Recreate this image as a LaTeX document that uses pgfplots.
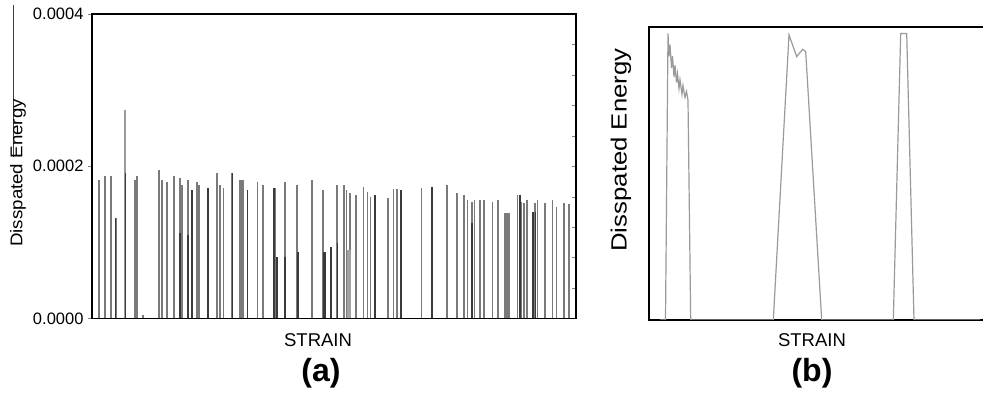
\documentclass[border=0pt]{standalone}
\usepackage{pgfplots}
\pgfplotsset{compat=1.18}
\usepackage{fontspec}
\setmainfont{Liberation Sans}
\definecolor{spk}{HTML}{7A7A7A}
\definecolor{spkdark}{HTML}{3A3A3A}
\definecolor{lineb}{HTML}{9A9A9A}
\begin{document}
\begin{tikzpicture}[x=1pt,y=1pt]
\path[use as bounding box] (0,0) rectangle (983,393);
\draw[black!75, line width=0.8pt] (13,388) -- (13,236);
% ---------------- panel (a)
\begin{axis}[
  at={(92pt,74.5pt)}, anchor=south west, scale only axis,
  width=484pt, height=304.5pt,
  xmin=92, xmax=576, ymin=0, ymax=4,
  xtick=\empty, ytick={0,2,4}, yticklabels={0.0000,0.0002,0.0004},
  ytick pos=left, tick align=outside, major tick length=4pt,
  axis line style={line width=1.8pt},
  yticklabel style={font=\fontsize{16.5}{18}\selectfont, xshift=-1pt},
  xlabel={STRAIN},
  xlabel style={at={(axis description cs:0.467,-0.072)}, anchor=center, font=\fontsize{18.5}{20}\selectfont},
  ylabel={\scalebox{1.1}[1]{Disspated Energy}},
  ylabel style={at={(axis description cs:-0.153,0.478)}, anchor=center, font=\fontsize{17}{19}\selectfont},
]
\addplot[ycomb, no markers, color=spk, line width=1.9pt] coordinates {
(99.3,1.82) (105,1.87) (111,1.87) (115.7,1.32) (135,1.82) (137.3,1.87)
(159.3,1.95) (162.3,1.82) (166.7,1.79) (174,1.87) (180,1.84) (182.3,1.75)
(187.7,1.82) (191.7,1.69) (197.3,1.79) (199,1.75) (207.7,1.71) (217,1.91)
(220,1.75) (223.5,1.71) (232,1.91) (240,1.82) (241.4,1.82) (242.7,1.82) (247.5,1.69)
(257.5,1.79) (263.3,1.75) (275,1.71) (285,1.79) (296.7,1.75) (311.7,1.82)
(323,1.69) (337.3,1.75) (344,1.75) (346.5,1.69) (350,1.65) (356,1.62)
(363.5,1.73) (367.5,1.66) (370.5,1.60) (375,1.62) (388,1.58) (393.5,1.70)
(397,1.70) (401,1.69) (421.5,1.71) (432,1.73) (447.3,1.75) (456.7,1.65)
(464,1.62) (467.5,1.56) (472,1.53) (474.5,1.56) (480,1.56) (484,1.56)
(492.5,1.53) (498,1.56) (505,1.39) (507,1.39) (509,1.39) (517.5,1.62)
(521,1.53) (524,1.52) (527,1.56) (532.5,1.40) (535,1.52) (537.5,1.56)
(545,1.52) (552.5,1.56) (556.5,1.47) (564.3,1.52) (569,1.50) (143.3,0.05)
};
\addplot[ycomb, no markers, color=spk!75, line width=1.3pt] coordinates {
(125,2.74)
};
\addplot[ycomb, no markers, color=spkdark, line width=1.6pt] coordinates {
(125.5,1.91) (115.7,1.32) (180,1.12) (188,1.10) (191.7,1.69) (207.7,1.71)
(232.3,1.91) (247.3,1.69) (274,1.71) (277,0.81) (285,0.81) (298,0.87)
(323.3,0.87) (325,0.87) (331,0.94) (337.3,0.99) (375,1.62) (401,1.69)
(432,1.73) (472,1.25) (520,1.62) (533,1.40) (535.5,1.40)
};
\addplot[ycomb, no markers, color=spk!70, line width=1.5pt] coordinates {
(350,0.90) (348,0.90)
};
\end{axis}
% right-hand minor ticks of (a)
\begin{axis}[
  at={(92pt,74.5pt)}, anchor=south west, scale only axis,
  width=484pt, height=304.5pt,
  xmin=92, xmax=576, ymin=0, ymax=4,
  axis x line=none, axis y line*=right,
  ytick={0.4,0.8,1.2,1.6,2.0,2.4,2.8,3.2,3.6}, yticklabels={},
  tick align=inside, major tick length=4pt,
  axis line style={line width=1.8pt, -},
]
\end{axis}
% ---------------- panel (b)
\begin{axis}[
  at={(649pt,73pt)}, anchor=south west, scale only axis,
  width=341pt, height=293pt,
  xmin=649, xmax=990, ymin=0, ymax=1,
  xtick=\empty, ytick=\empty,
  axis line style={line width=1.4pt},
  xlabel={STRAIN},
  xlabel style={at={(axis description cs:0.478,-0.070)}, anchor=center, font=\fontsize{18.5}{20}\selectfont},
  ylabel={\scalebox{1.17}[1]{Disspated Energy}},
  ylabel style={at={(axis description cs:-0.082,0.58)}, anchor=center, font=\fontsize{22}{24}\selectfont},
]
\addplot[color=lineb, line width=1.2pt, no markers] coordinates {
(660,0) (665.5,0) (668,0.978) (669,0.90) (670,0.94) (671.5,0.86) (672.5,0.90)
(674,0.83) (675,0.87) (676.5,0.81) (677.5,0.84) (679,0.79) (680,0.82)
(682,0.77) (683,0.80) (685,0.76) (686.5,0.78) (688,0.75) (690.7,0)
(773.3,0) (789,0.973) (796.7,0.899) (802.7,0.924) (805.7,0.916) (821.7,0)
(893.3,0) (900.7,0.978) (906.7,0.978) (914,0) (980,0)
};
\end{axis}
\node[font=\fontsize{32}{36}\selectfont\bfseries] at (321,20) {(a)};
\node[font=\fontsize{32}{36}\selectfont\bfseries] at (812,20) {(b)};
\end{tikzpicture}
\end{document}
